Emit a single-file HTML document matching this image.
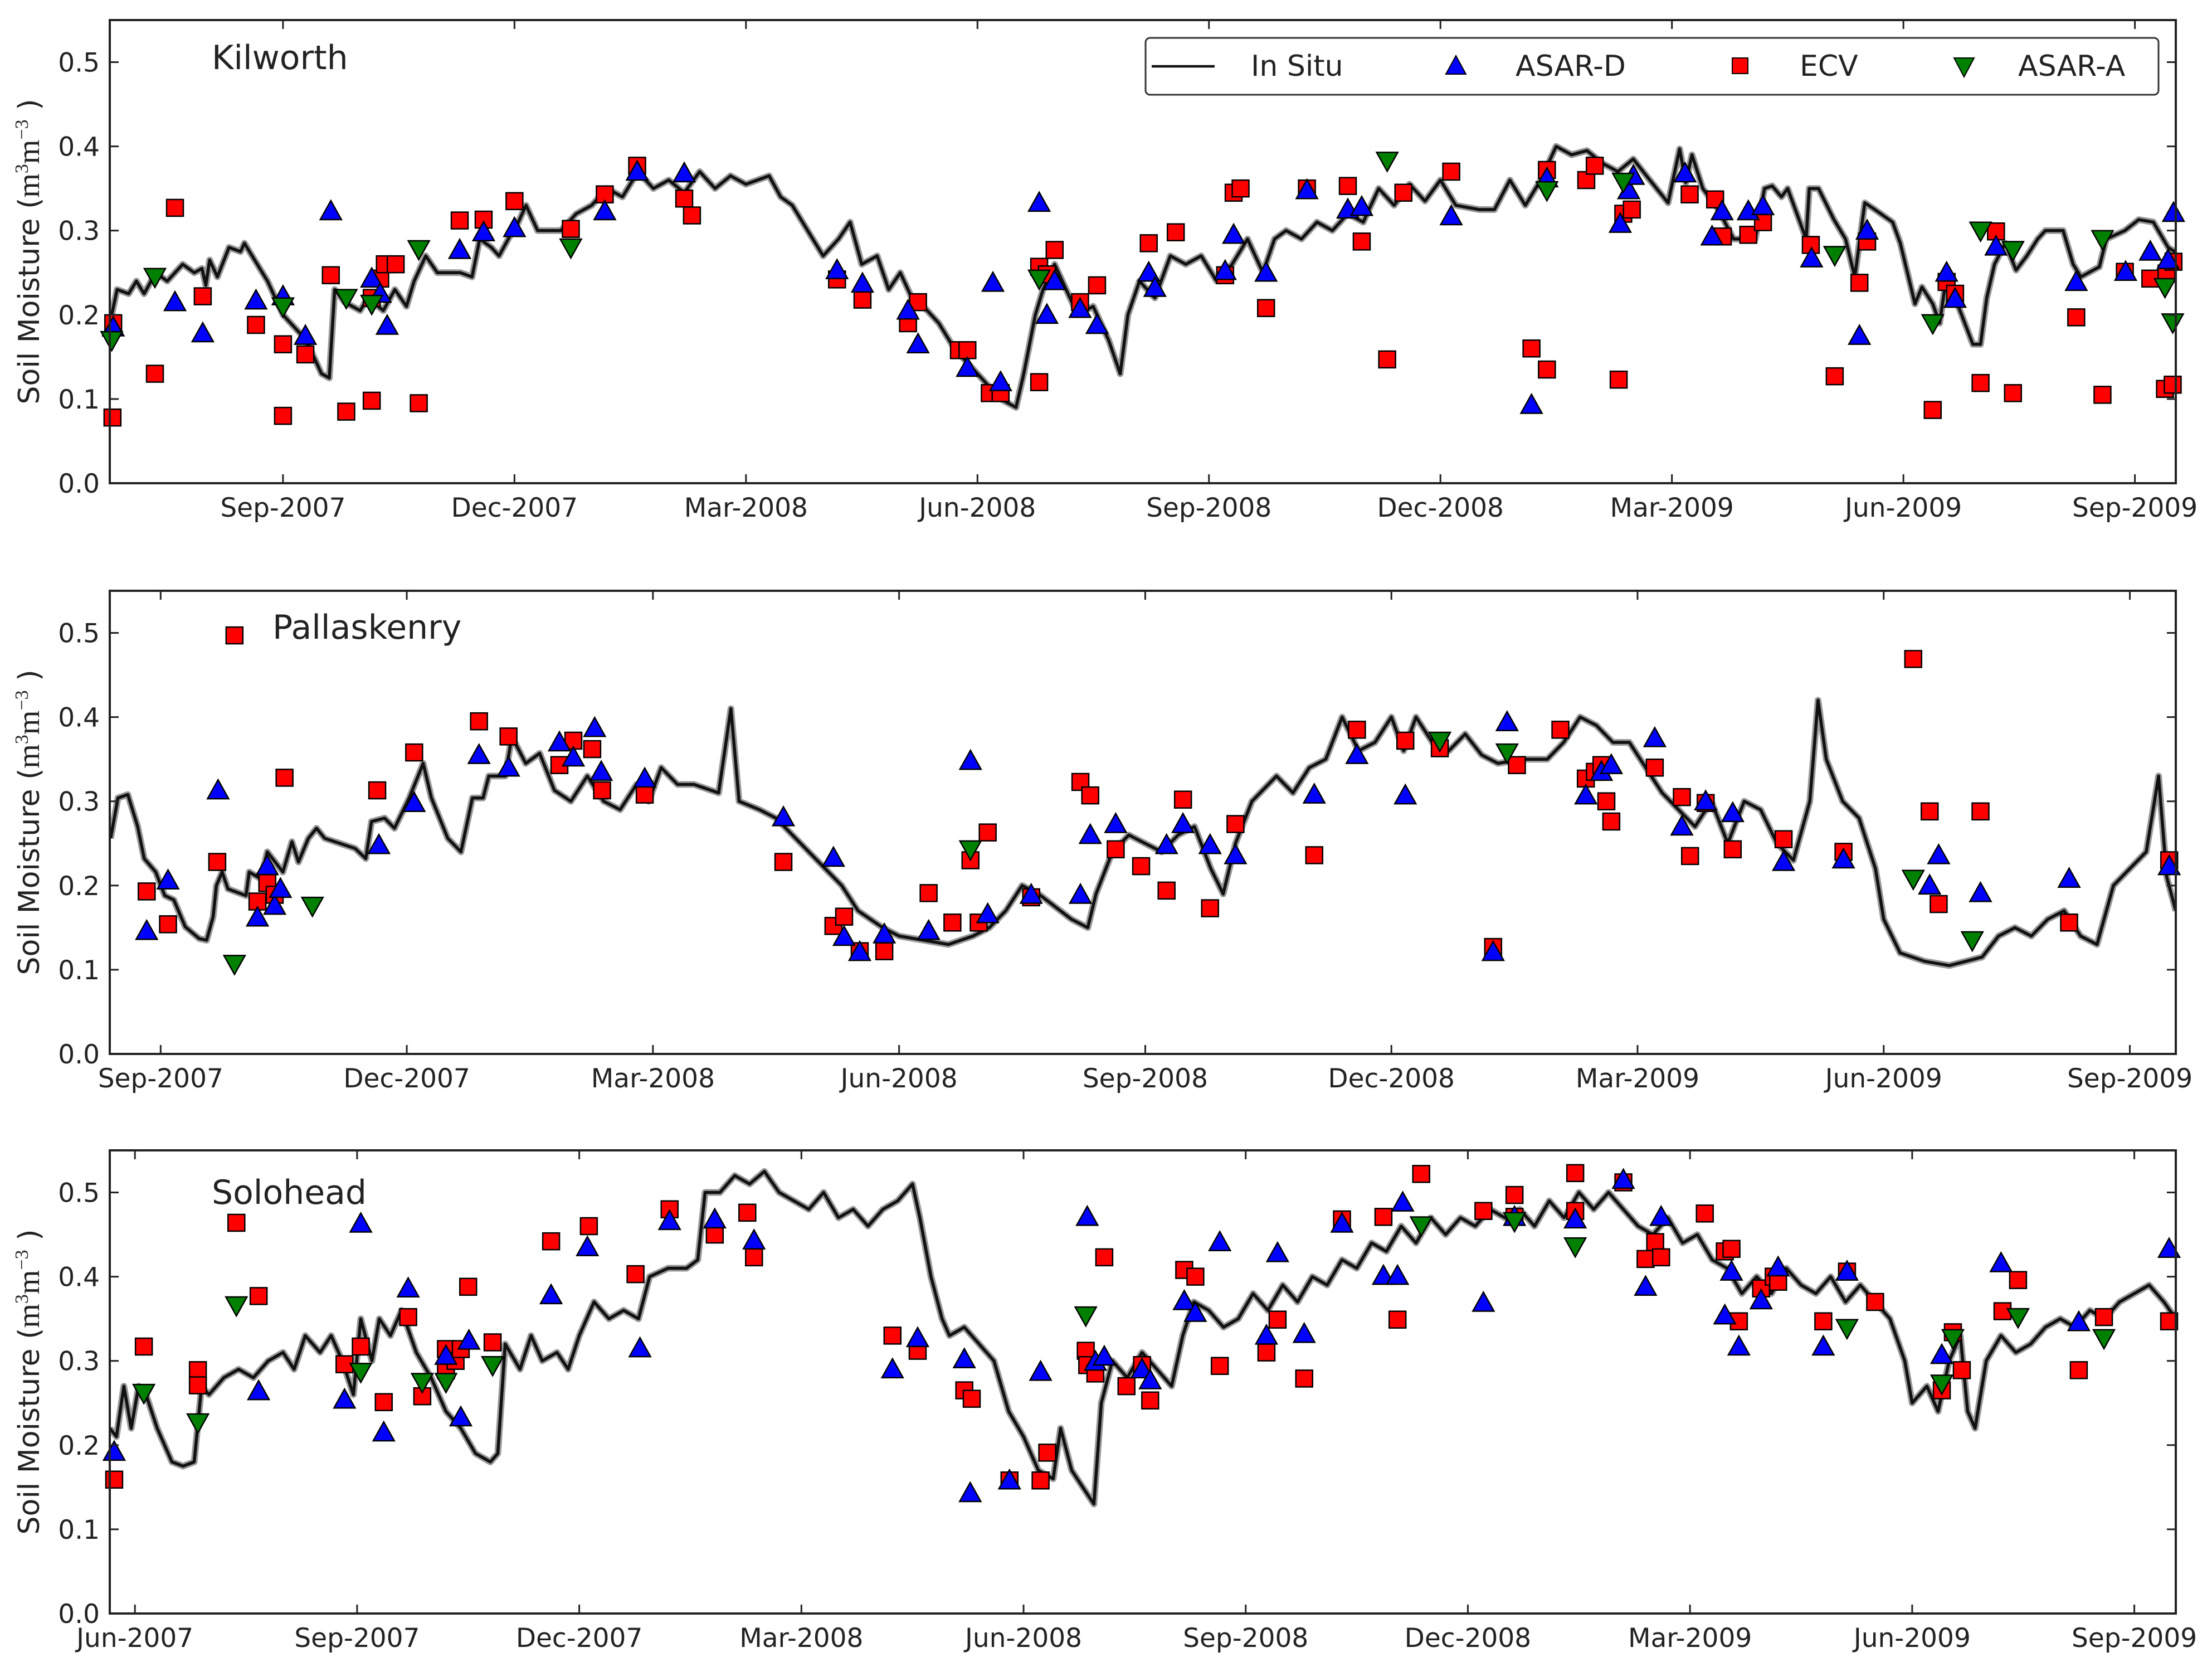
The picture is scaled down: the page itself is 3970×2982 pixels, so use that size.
<!DOCTYPE html>
<html><head><meta charset="utf-8"><style>
html,body{margin:0;padding:0;background:#fff}
svg{display:block}
text{font-family:"DejaVu Sans","Liberation Sans",sans-serif;fill:#222}
</style></head><body>
<svg id="chart" width="3970" height="2982" viewBox="0 0 3970 2982" xmlns="http://www.w3.org/2000/svg"></svg>
<script>
// x values = months since Jan 2007 (8 = Sep-2007), y values = soil moisture
const tickMonths=[5,8,11,14,17,20,23,26,29,32];
const tickLabels=["Jun-2007","Sep-2007","Dec-2007","Mar-2008","Jun-2008","Sep-2008","Dec-2008","Mar-2009","Jun-2009","Sep-2009"];
const yTicks=[0,0.1,0.2,0.3,0.4,0.5];
const yTickLabels=["0.0","0.1","0.2","0.3","0.4","0.5"];
const siteNames=["Kilworth","Pallaskenry","Solohead"];

const kilInSitu=[[5.78,.2],[5.85,.23],[6.0,.225],[6.1,.24],[6.2,.225],[6.35,.25],[6.5,.24],[6.7,.26],[6.85,.25],[6.95,.255],[7.0,.235],[7.05,.265],[7.15,.245],[7.3,.28],[7.45,.275],[7.5,.285],[7.6,.27],[7.8,.24],[8.0,.2],[8.3,.17],[8.5,.13],[8.6,.125],[8.67,.23],[8.8,.215],[9.0,.205],[9.1,.22],[9.3,.205],[9.45,.23],[9.6,.21],[9.7,.24],[9.85,.27],[10.0,.25],[10.3,.25],[10.45,.245],[10.55,.29],[10.7,.28],[10.8,.27],[10.95,.295],[11.05,.31],[11.15,.33],[11.3,.30],[11.6,.3],[11.8,.32],[12.0,.33],[12.2,.35],[12.4,.34],[12.6,.37],[12.8,.35],[13.0,.36],[13.2,.345],[13.4,.37],[13.6,.35],[13.8,.365],[14.0,.355],[14.3,.365],[14.45,.34],[14.6,.33],[14.8,.3],[15.0,.27],[15.2,.29],[15.35,.31],[15.5,.26],[15.7,.27],[15.85,.23],[16.0,.25],[16.15,.22],[16.3,.21],[16.5,.19],[16.7,.16],[16.9,.14],[17.1,.12],[17.3,.1],[17.5,.09],[17.6,.13],[17.75,.2],[17.85,.23],[18.0,.26],[18.1,.24],[18.3,.2],[18.5,.21],[18.7,.17],[18.85,.13],[18.95,.2],[19.1,.24],[19.3,.22],[19.5,.27],[19.7,.26],[19.9,.27],[20.1,.24],[20.3,.26],[20.5,.29],[20.7,.25],[20.85,.29],[21.0,.3],[21.2,.29],[21.4,.31],[21.6,.3],[21.8,.32],[22.0,.31],[22.2,.35],[22.4,.33],[22.6,.355],[22.8,.335],[23.0,.36],[23.2,.33],[23.5,.325],[23.7,.325],[23.9,.36],[24.1,.33],[24.3,.36],[24.5,.4],[24.7,.39],[24.9,.395],[25.1,.38],[25.3,.37],[25.5,.385],[25.67,.365],[25.95,.333],[26.1,.397],[26.18,.357],[26.26,.39],[26.4,.35],[26.6,.325],[26.8,.29],[27.08,.29],[27.2,.35],[27.3,.353],[27.42,.34],[27.5,.35],[27.74,.29],[27.78,.35],[27.9,.35],[28.1,.313],[28.25,.29],[28.37,.245],[28.5,.333],[28.63,.325],[28.86,.31],[28.96,.285],[29.15,.213],[29.24,.233],[29.38,.213],[29.47,.19],[29.57,.253],[29.7,.213],[29.9,.165],[30.0,.165],[30.08,.22],[30.18,.26],[30.32,.285],[30.46,.253],[30.6,.27],[30.74,.29],[30.84,.3],[31.07,.3],[31.2,.26],[31.3,.245],[31.54,.257],[31.63,.29],[31.87,.3],[32.05,.313],[32.24,.31],[32.43,.28],[32.55,.273]];
const kilECV=[[5.79,.078],[5.8,.19],[6.34,.13],[6.6,.327],[6.96,.222],[7.65,.188],[8.0,.08],[8.0,.165],[8.29,.153],[8.62,.247],[8.82,.085],[9.15,.098],[9.15,.22],[9.26,.243],[9.32,.26],[9.46,.26],[9.76,.095],[10.29,.312],[10.6,.313],[11.0,.335],[11.73,.302],[12.17,.343],[12.59,.377],[13.2,.338],[13.3,.318],[15.18,.242],[15.51,.218],[16.1,.19],[16.23,.215],[16.76,.158],[16.87,.158],[17.16,.107],[17.3,.107],[17.8,.12],[17.8,.257],[17.9,.248],[18.0,.277],[18.33,.215],[18.55,.235],[19.22,.285],[19.57,.298],[20.21,.247],[20.32,.345],[20.41,.35],[20.74,.208],[21.27,.35],[21.8,.353],[21.98,.287],[22.31,.147],[22.52,.345],[23.14,.37],[24.18,.16],[24.38,.135],[24.38,.372],[24.89,.36],[25.0,.377],[25.31,.123],[25.37,.32],[25.48,.325],[26.23,.343],[26.56,.337],[26.66,.293],[26.99,.295],[27.18,.31],[27.8,.283],[28.11,.127],[28.43,.238],[28.53,.287],[29.38,.087],[29.56,.239],[29.67,.225],[30.0,.119],[30.2,.299],[30.42,.107],[31.24,.197],[31.58,.105],[31.87,.251],[32.2,.243],[32.39,.112],[32.49,.117],[32.41,.249],[32.5,.263]];
const kilAsarD=[[5.8,.185],[6.6,.215],[6.96,.178],[7.65,.217],[8.0,.222],[8.29,.175],[8.62,.323],[9.15,.243],[9.26,.225],[9.35,.187],[10.29,.277],[10.6,.298],[11.0,.303],[12.17,.323],[12.59,.37],[13.2,.368],[15.18,.253],[15.51,.237],[16.1,.205],[16.23,.165],[16.87,.137],[17.2,.238],[17.3,.12],[17.8,.333],[17.9,.2],[18.0,.24],[18.33,.207],[18.55,.188],[19.22,.25],[19.3,.232],[20.21,.252],[20.32,.295],[20.74,.25],[21.27,.348],[21.8,.325],[21.98,.328],[23.14,.317],[24.18,.093],[24.38,.362],[25.33,.308],[25.44,.348],[25.5,.365],[26.17,.368],[26.52,.293],[26.65,.323],[26.99,.323],[27.18,.329],[27.81,.267],[28.43,.175],[28.53,.3],[29.56,.25],[29.67,.219],[30.2,.281],[31.24,.239],[31.88,.251],[32.2,.275],[32.43,.265],[32.5,.321]];
const kilAsarA=[[5.78,.17],[6.34,.245],[8.0,.21],[8.82,.22],[9.15,.213],[9.76,.278],[11.73,.28],[17.8,.243],[22.31,.383],[24.38,.348],[25.37,.358],[28.11,.271],[29.38,.19],[30.0,.3],[30.42,.277],[31.58,.29],[32.39,.233],[32.49,.191]];

const palInSitu=[[7.39,.256],[7.48,.304],[7.6,.308],[7.72,.27],[7.8,.232],[7.94,.216],[8.05,.188],[8.16,.183],[8.3,.151],[8.47,.137],[8.56,.135],[8.64,.163],[8.68,.2],[8.75,.216],[8.82,.196],[9.04,.188],[9.08,.216],[9.22,.208],[9.3,.24],[9.49,.216],[9.6,.252],[9.68,.228],[9.8,.256],[9.9,.268],[10.0,.256],[10.37,.244],[10.5,.232],[10.57,.276],[10.73,.28],[10.85,.268],[11.03,.304],[11.2,.345],[11.3,.304],[11.5,.256],[11.66,.24],[11.8,.304],[11.93,.304],[12.0,.33],[12.2,.33],[12.28,.377],[12.45,.345],[12.62,.357],[12.8,.313],[13.0,.3],[13.2,.33],[13.4,.3],[13.6,.29],[13.8,.32],[13.95,.3],[14.1,.34],[14.3,.32],[14.5,.32],[14.8,.31],[14.95,.41],[15.05,.3],[15.3,.29],[15.5,.28],[15.7,.26],[15.9,.24],[16.1,.22],[16.3,.2],[16.5,.17],[16.8,.15],[17.0,.14],[17.3,.135],[17.6,.13],[17.9,.14],[18.1,.15],[18.3,.17],[18.5,.2],[18.7,.19],[18.9,.175],[19.1,.16],[19.3,.15],[19.4,.19],[19.6,.24],[19.8,.26],[20.0,.25],[20.2,.24],[20.4,.26],[20.6,.27],[20.8,.22],[20.95,.19],[21.1,.25],[21.3,.3],[21.6,.33],[21.8,.31],[22.0,.34],[22.2,.35],[22.4,.4],[22.6,.36],[22.8,.37],[23.0,.4],[23.15,.36],[23.3,.4],[23.5,.37],[23.7,.36],[23.9,.38],[24.1,.355],[24.3,.345],[24.6,.35],[24.9,.35],[25.1,.37],[25.3,.4],[25.5,.39],[25.7,.37],[25.9,.37],[26.1,.34],[26.3,.31],[26.5,.29],[26.7,.27],[26.9,.3],[27.1,.25],[27.3,.3],[27.5,.29],[27.7,.25],[27.9,.23],[28.1,.3],[28.2,.42],[28.3,.35],[28.5,.3],[28.7,.28],[28.9,.22],[29.0,.16],[29.2,.12],[29.5,.11],[29.8,.105],[30.0,.11],[30.2,.115],[30.4,.14],[30.6,.15],[30.8,.14],[31.0,.16],[31.2,.17],[31.4,.14],[31.6,.13],[31.8,.2],[32.0,.22],[32.2,.24],[32.35,.33],[32.45,.21],[32.56,.17]];
const palECV=[[7.83,.193],[8.09,.154],[8.69,.228],[8.9,.497],[9.18,.181],[9.3,.203],[9.39,.189],[9.51,.328],[10.64,.313],[11.09,.358],[11.88,.395],[12.24,.377],[12.86,.343],[13.03,.372],[13.26,.362],[13.38,.313],[13.9,.308],[15.59,.228],[16.2,.152],[16.33,.163],[16.52,.122],[16.82,.122],[17.36,.191],[17.65,.156],[17.87,.23],[17.97,.156],[18.08,.263],[18.61,.186],[19.21,.323],[19.33,.307],[19.64,.243],[19.95,.223],[20.26,.194],[20.46,.302],[20.79,.173],[21.1,.273],[22.06,.236],[22.58,.385],[23.17,.372],[23.59,.363],[24.24,.127],[24.53,.343],[25.06,.385],[25.37,.327],[25.48,.335],[25.56,.343],[25.62,.3],[25.68,.276],[26.21,.34],[26.54,.305],[26.64,.235],[26.83,.298],[27.16,.243],[27.78,.255],[28.51,.24],[29.36,.469],[29.56,.288],[29.67,.178],[30.18,.288],[31.26,.156],[32.48,.23]];
const palAsarD=[[7.83,.146],[8.09,.206],[8.7,.313],[9.18,.162],[9.3,.223],[9.39,.176],[9.46,.196],[10.66,.248],[11.09,.298],[11.88,.355],[12.24,.34],[12.86,.37],[13.03,.352],[13.29,.387],[13.37,.335],[13.9,.327],[15.59,.281],[16.2,.233],[16.33,.139],[16.52,.121],[16.82,.142],[17.36,.146],[17.87,.348],[18.08,.166],[18.61,.189],[19.21,.189],[19.33,.26],[19.64,.273],[20.26,.248],[20.46,.273],[20.79,.248],[21.1,.236],[22.06,.308],[22.58,.355],[23.17,.307],[24.24,.121],[24.41,.394],[25.37,.307],[25.56,.335],[25.68,.343],[26.21,.375],[26.54,.27],[26.83,.3],[27.16,.286],[27.78,.228],[28.51,.231],[29.56,.2],[29.67,.236],[30.18,.191],[31.26,.208],[32.48,.223]];
const palAsarA=[[8.9,.107],[9.85,.176],[17.87,.243],[23.59,.372],[24.41,.358],[29.36,.208],[30.08,.135]];

const solInSitu=[[4.66,.22],[4.75,.21],[4.85,.27],[4.95,.22],[5.05,.27],[5.15,.26],[5.3,.22],[5.5,.18],[5.65,.175],[5.8,.18],[5.9,.27],[6.0,.26],[6.2,.28],[6.4,.29],[6.6,.28],[6.8,.3],[7.0,.31],[7.15,.29],[7.3,.33],[7.5,.31],[7.65,.33],[7.8,.3],[7.95,.26],[8.05,.35],[8.2,.3],[8.3,.35],[8.45,.33],[8.6,.36],[8.8,.31],[9.0,.28],[9.2,.24],[9.4,.22],[9.6,.19],[9.8,.18],[9.9,.19],[10.0,.32],[10.2,.29],[10.35,.33],[10.5,.3],[10.7,.31],[10.85,.29],[11.0,.33],[11.2,.37],[11.4,.35],[11.6,.36],[11.8,.35],[11.95,.4],[12.2,.41],[12.45,.41],[12.6,.42],[12.7,.5],[12.9,.5],[13.1,.52],[13.3,.51],[13.5,.525],[13.7,.5],[13.9,.49],[14.1,.48],[14.3,.5],[14.5,.47],[14.7,.48],[14.9,.46],[15.1,.48],[15.3,.49],[15.5,.51],[15.6,.47],[15.75,.4],[15.9,.35],[16.0,.33],[16.2,.34],[16.4,.32],[16.6,.3],[16.8,.24],[17.0,.21],[17.2,.17],[17.4,.16],[17.5,.22],[17.65,.17],[17.8,.15],[17.95,.13],[18.05,.25],[18.2,.3],[18.4,.28],[18.6,.31],[18.8,.29],[19.0,.27],[19.15,.33],[19.3,.37],[19.5,.36],[19.7,.34],[19.9,.35],[20.1,.38],[20.3,.36],[20.5,.39],[20.7,.37],[20.9,.4],[21.1,.39],[21.3,.42],[21.5,.41],[21.7,.44],[21.9,.43],[22.1,.46],[22.3,.44],[22.5,.47],[22.7,.45],[22.9,.47],[23.1,.46],[23.3,.48],[23.5,.47],[23.7,.48],[23.9,.46],[24.1,.49],[24.3,.47],[24.5,.5],[24.7,.48],[24.9,.5],[25.1,.48],[25.3,.46],[25.5,.45],[25.7,.47],[25.9,.44],[26.1,.45],[26.3,.42],[26.5,.41],[26.7,.38],[26.9,.4],[27.1,.38],[27.3,.41],[27.5,.39],[27.7,.38],[27.9,.4],[28.1,.37],[28.3,.39],[28.5,.37],[28.7,.35],[28.9,.3],[29.0,.25],[29.2,.27],[29.35,.24],[29.5,.3],[29.65,.33],[29.75,.24],[29.85,.22],[30.0,.3],[30.2,.33],[30.4,.31],[30.6,.32],[30.8,.34],[31.0,.35],[31.2,.34],[31.4,.36],[31.6,.35],[31.8,.37],[32.0,.38],[32.2,.39],[32.4,.37],[32.56,.35]];
const solECV=[[4.72,.159],[5.12,.317],[5.85,.289],[5.85,.271],[6.37,.464],[6.67,.377],[7.83,.296],[8.05,.317],[8.36,.251],[8.69,.352],[8.88,.258],[9.2,.289],[9.2,.314],[9.33,.3],[9.4,.314],[9.5,.388],[9.83,.322],[10.62,.442],[11.13,.46],[11.76,.403],[12.22,.48],[12.83,.45],[13.27,.476],[13.36,.423],[15.23,.33],[15.57,.312],[16.2,.265],[16.3,.255],[16.81,.158],[17.23,.158],[17.32,.191],[17.84,.312],[17.86,.295],[17.97,.285],[18.09,.423],[18.39,.27],[18.6,.295],[18.71,.253],[19.17,.408],[19.32,.4],[19.65,.294],[20.28,.31],[20.43,.349],[20.79,.279],[21.3,.468],[21.86,.471],[22.05,.349],[22.37,.522],[23.21,.478],[23.63,.497],[23.63,.471],[24.45,.523],[24.45,.478],[25.1,.512],[25.4,.421],[25.53,.441],[25.61,.423],[26.2,.475],[26.47,.43],[26.56,.433],[26.66,.347],[26.96,.386],[27.13,.4],[27.19,.394],[27.8,.347],[28.12,.406],[28.5,.37],[29.4,.265],[29.55,.334],[29.67,.289],[30.22,.359],[30.43,.396],[31.25,.289],[31.59,.352],[32.47,.347]];
const solAsarD=[[4.72,.192],[6.67,.264],[7.83,.254],[8.05,.463],[8.36,.215],[8.69,.386],[9.2,.306],[9.4,.233],[9.51,.324],[10.62,.378],[11.11,.435],[11.82,.315],[12.22,.466],[12.83,.468],[13.36,.443],[15.23,.29],[15.57,.327],[16.2,.302],[16.28,.143],[16.81,.158],[17.23,.287],[17.86,.471],[17.97,.299],[18.09,.305],[18.6,.29],[18.71,.277],[19.17,.371],[19.32,.357],[19.65,.441],[20.28,.33],[20.43,.428],[20.79,.332],[21.3,.463],[21.86,.401],[22.05,.401],[22.12,.488],[23.21,.369],[23.63,.471],[24.45,.468],[25.1,.515],[25.4,.388],[25.61,.471],[26.47,.354],[26.56,.406],[26.66,.317],[26.96,.372],[27.19,.411],[27.8,.317],[28.12,.406],[29.4,.307],[30.2,.416],[31.25,.346],[32.47,.433]];
const solAsarA=[[5.12,.262],[5.85,.227],[6.37,.366],[8.05,.287],[8.88,.275],[9.2,.275],[9.83,.295],[17.84,.354],[22.37,.461],[23.63,.466],[24.45,.436],[28.12,.339],[29.4,.273],[29.55,.327],[30.43,.352],[31.59,.327]];

const panels=[
 {name:siteNames[0],top:36,bottom:867,m0:5.755,m1:32.53,line:kilInSitu,ecv:kilECV,ad:kilAsarD,aa:kilAsarA,ticks:[1,2,3,4,5,6,7,8,9],titleX:380,titleY:124,legend:true},
 {name:siteNames[1],top:1060,bottom:1891,m0:7.38,m1:32.56,line:palInSitu,ecv:palECV,ad:palAsarD,aa:palAsarA,ticks:[1,2,3,4,5,6,7,8,9],titleX:489,titleY:1146,legend:false},
 {name:siteNames[2],top:2064,bottom:2895,m0:4.66,m1:32.56,line:solInSitu,ecv:solECV,ad:solAsarD,aa:solAsarA,ticks:[0,1,2,3,4,5,6,7,8,9],titleX:380,titleY:2160,legend:false}
];
const L=197,R=3905;
const NS="http://www.w3.org/2000/svg";
const svg=document.getElementById('chart');
function mk(tag,attrs,parent){const e=document.createElementNS(NS,tag);for(const k in attrs)e.setAttribute(k,attrs[k]);(parent||svg).appendChild(e);return e;}

panels.forEach((p,pi)=>{
  const xs=m=>L+(m-p.m0)/(p.m1-p.m0)*(R-L);
  const ys=v=>p.bottom-v/0.55*(p.bottom-p.top);
  const g=mk('g',{});
  
  
  const cid='clip'+pi;
  const cp=mk('clipPath',{id:cid},g);mk('rect',{x:L,y:p.top,width:R-L,height:p.bottom-p.top},cp);
  const d=p.line.map((pt,i)=>(i?'L':'M')+xs(pt[0]).toFixed(1)+','+ys(pt[1]).toFixed(1)).join('');
  const band=mk('path',{d:d,fill:'none',stroke:'#9a9a9a','stroke-width':12,'stroke-linejoin':'round','clip-path':'url(#'+cid+')'},g);
  
  
  const ln=mk('path',{d:d,fill:'none',stroke:'#111','stroke-width':5.5,'stroke-linejoin':'round','clip-path':'url(#'+cid+')'},g);
  
  
  const s=15;
  p.ecv.forEach(pt=>{const x=xs(pt[0]),y=ys(pt[1]);
    const r=mk('rect',{x:x-s,y:y-s,width:2*s,height:2*s,fill:'#ff0000',stroke:'#000','stroke-width':2.5},g);
    
    });
  p.ad.forEach(pt=>{const x=xs(pt[0]),y=ys(pt[1]);
    const t=mk('polygon',{points:`${x},${y-19} ${x-19},${y+15} ${x+19},${y+15}`,fill:'#0000ff',stroke:'#000','stroke-width':2.5},g);
    
    });
  p.aa.forEach(pt=>{const x=xs(pt[0]),y=ys(pt[1]);
    const t=mk('polygon',{points:`${x},${y+19} ${x-19},${y-15} ${x+19},${y-15}`,fill:'#008000',stroke:'#000','stroke-width':2.5},g);
    
    });
  const fr=mk('rect',{x:L,y:p.top,width:R-L,height:p.bottom-p.top,fill:'none',stroke:'#222','stroke-width':4},g);
  
  
  yTicks.forEach((v,i)=>{const y=ys(v);
    mk('line',{x1:L,y1:y,x2:L+16,y2:y,stroke:'#222','stroke-width':3},g);
    mk('line',{x1:R,y1:y,x2:R-16,y2:y,stroke:'#222','stroke-width':3},g);
    const t=mk('text',{x:L-18,y:y+17,'text-anchor':'end','font-size':47},g);t.textContent=yTickLabels[i];
    
    });
  p.ticks.forEach(i=>{const x=xs(tickMonths[i]);
    mk('line',{x1:x,y1:p.bottom,x2:x,y2:p.bottom-16,stroke:'#222','stroke-width':3},g);
    mk('line',{x1:x,y1:p.top,x2:x,y2:p.top+16,stroke:'#222','stroke-width':3},g);
    const t=mk('text',{x:x,y:p.bottom+60,'text-anchor':'middle','font-size':47},g);t.textContent=tickLabels[i];
    
    });
  const cy=(p.top+p.bottom)/2;
  const yl=mk('text',{x:0,y:0,'text-anchor':'middle','font-size':52,transform:`translate(70,${cy}) rotate(-90)`},g);
  yl.innerHTML='Soil Moisture (<tspan font-family="Liberation Serif,serif" font-size="56">m</tspan><tspan font-size="34" dy="-20" font-family="Liberation Serif,serif">3</tspan><tspan dy="20" font-family="Liberation Serif,serif" font-size="56">m</tspan><tspan font-size="34" dy="-20" font-family="Liberation Serif,serif">−3</tspan><tspan dy="20"> )</tspan>';
  
  
  const tt=mk('text',{x:p.titleX,y:p.titleY,'font-size':60},g);tt.textContent=p.name;
  
  
  if(p.legend){
    const lg=mk('g',{},g);
    
    
    mk('rect',{x:2056,y:68,width:1818,height:102,rx:8,fill:'#fff',stroke:'#333','stroke-width':3},lg);
    mk('line',{x1:2067,y1:119,x2:2180,y2:119,stroke:'#111','stroke-width':4.5},lg);
    const e1=mk('text',{x:2245,y:136,'font-size':52},lg);e1.textContent='In Situ';
    
    
    mk('polygon',{points:'2613,100 2595,133 2631,133',fill:'#0000ff',stroke:'#000','stroke-width':2},lg);
    const e2=mk('text',{x:2720,y:136,'font-size':52},lg);e2.textContent='ASAR-D';
    
    
    mk('rect',{x:3109,y:104,width:28,height:28,fill:'#ff0000',stroke:'#000','stroke-width':2},lg);
    const e3=mk('text',{x:3230,y:136,'font-size':52},lg);e3.textContent='ECV';
    
    
    mk('polygon',{points:'3525,138 3507,104 3543,104',fill:'#008000',stroke:'#000','stroke-width':2},lg);
    const e4=mk('text',{x:3622,y:136,'font-size':52},lg);e4.textContent='ASAR-A';
    
    
  }
});
</script>
</body></html>
